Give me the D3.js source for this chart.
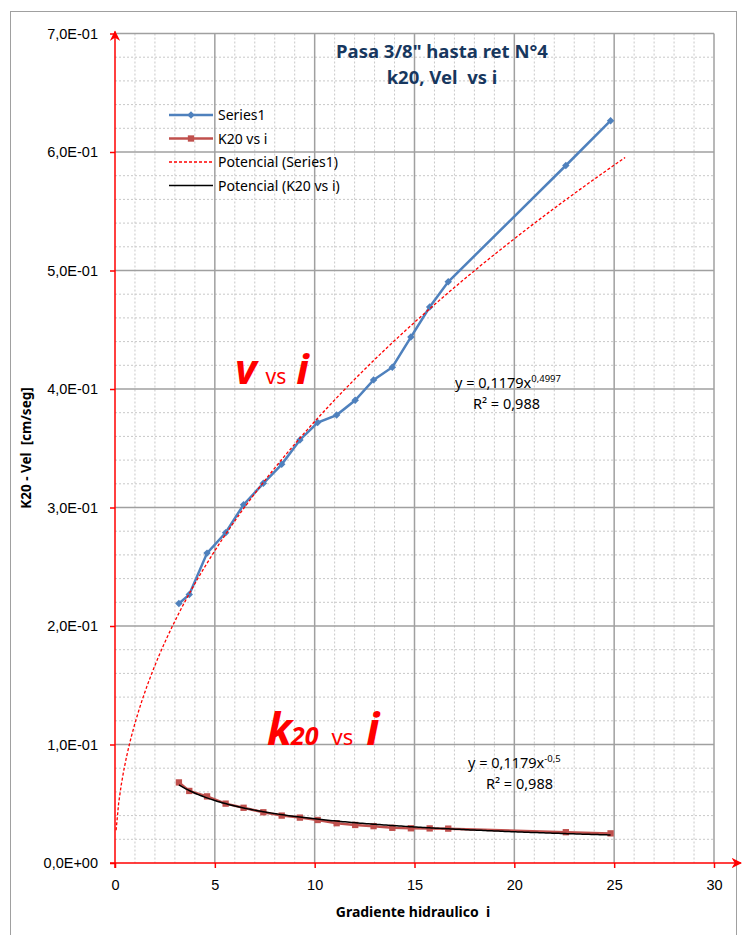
<!DOCTYPE html>
<html>
<head>
<meta charset="utf-8">
<script src="https://cdn.jsdelivr.net/npm/d3@7"></script>
<style>
  body { margin: 0; background: #fff; }
  svg { font-family: "Noto Sans", "Open Sans", sans-serif; }
  text { white-space: pre; }
</style>
</head>
<body>
<script>
// data
var gradiente = [3.20, 3.72, 4.61, 5.54, 6.44, 7.43, 8.35, 9.26, 10.15, 11.10,
                 12.03, 12.95, 13.89, 14.82, 15.76, 16.69, 22.58, 24.82];
var velocidad = [0.2190, 0.2265, 0.2615, 0.2787, 0.3024, 0.3204, 0.3364, 0.3570, 0.3717, 0.3780,
                 0.3905, 0.4077, 0.4184, 0.4438, 0.4692, 0.4905, 0.5886, 0.6264];
var k20 = [0.0680, 0.0608, 0.0562, 0.0501, 0.0466, 0.0428, 0.0400, 0.0383, 0.0363, 0.0336,
           0.0321, 0.0311, 0.0297, 0.0293, 0.0292, 0.0290, 0.0260, 0.0250];
var xTicks = [0, 5, 10, 15, 20, 25, 30];
var yTicks = [0, 0.1, 0.2, 0.3, 0.4, 0.5, 0.6, 0.7];
var yTickLabels = ['0,0E+00', '1,0E-01', '2,0E-01', '3,0E-01', '4,0E-01', '5,0E-01', '6,0E-01', '7,0E-01'];
var legendNames = ['Series1', 'K20 vs i', 'Potencial (Series1)', 'Potencial (K20 vs i)'];
// power trendlines y = a * x^b as printed on the chart
var trendVel = { a: 0.1179, b: 0.4997, from: 0.055, to: 25.55 };
var trendK20 = { a: 0.1179, b: -0.5, from: 3.2, to: 24.82 };

var width = 746;
var height = 935;
var plot = { left: 115, right: 714, top: 33.5, bottom: 863 };

var svg = d3.select('body')
            .append('svg')
            .attr('width', width)
            .attr('height', height);

var xScale = d3.scaleLinear().domain([0, 30]).range([plot.left, plot.right]);
var yScale = d3.scaleLinear().domain([0, 0.7]).range([plot.bottom, plot.top]);

// chart frame
svg.append('rect')
    .attr('x', 10.5).attr('y', 11.5)
    .attr('width', 726).attr('height', 940)
    .attr('fill', '#fff')
    .attr('stroke', '#a0a0a0');

// minor grid
var grid = svg.append('g');
grid.selectAll('.minor-x')
    .data(d3.range(1, 30).filter(function (d) { return d % 5 !== 0; }))
    .enter().append('line')
    .attr('x1', function (d) { return xScale(d); })
    .attr('x2', function (d) { return xScale(d); })
    .attr('y1', plot.top).attr('y2', plot.bottom)
    .attr('stroke', '#c8c8c8').attr('stroke-dasharray', '2,2');
grid.selectAll('.minor-y')
    .data(d3.range(1, 35).filter(function (d) { return d % 5 !== 0; }).map(function (d) { return d * 0.02; }))
    .enter().append('line')
    .attr('y1', function (d) { return yScale(d); })
    .attr('y2', function (d) { return yScale(d); })
    .attr('x1', plot.left).attr('x2', plot.right)
    .attr('stroke', '#c8c8c8').attr('stroke-dasharray', '2,2');

// major grid
grid.selectAll('.major-x')
    .data(xTicks.slice(1))
    .enter().append('line')
    .attr('x1', function (d) { return xScale(d); })
    .attr('x2', function (d) { return xScale(d); })
    .attr('y1', plot.top).attr('y2', plot.bottom)
    .attr('stroke', '#a0a0a0').attr('stroke-width', 1.5);
grid.selectAll('.major-y')
    .data(yTicks.slice(1))
    .enter().append('line')
    .attr('y1', function (d) { return yScale(d); })
    .attr('y2', function (d) { return yScale(d); })
    .attr('x1', plot.left).attr('x2', plot.right)
    .attr('stroke', '#a0a0a0').attr('stroke-width', 1.5);

// axes
var yAxis = svg.append('g')
    .attr('transform', `translate(${plot.left},0)`)
    .call(d3.axisLeft(yScale)
            .tickValues(yTicks)
            .tickSize(5)
            .tickPadding(12)
            .tickFormat(function (d, i) { return yTickLabels[i]; }));
yAxis.select('.domain').remove();
yAxis.selectAll('line').attr('stroke', '#ff0000').attr('stroke-width', 1.5);
yAxis.selectAll('text').attr('font-size', 14.5).attr('fill', '#000');

var xAxis = svg.append('g')
    .attr('transform', `translate(0,${plot.bottom})`)
    .call(d3.axisBottom(xScale)
            .tickValues(xTicks)
            .tickSize(5)
            .tickPadding(12));
xAxis.select('.domain').remove();
xAxis.selectAll('line').attr('stroke', '#ff0000').attr('stroke-width', 1.5);
xAxis.selectAll('text').attr('font-size', 14.5).attr('fill', '#000');

// red axis lines with arrows
svg.append('defs').append('marker')
    .attr('id', 'arrow')
    .attr('viewBox', '0 0 10 10')
    .attr('refX', 9).attr('refY', 5)
    .attr('markerWidth', 7).attr('markerHeight', 7)
    .attr('orient', 'auto')
  .append('path')
    .attr('d', 'M0,0 L10,5 L0,10 L3,5 Z')
    .attr('fill', '#ff0000');

svg.append('line')
    .attr('x1', plot.left - 5).attr('x2', 741)
    .attr('y1', plot.bottom).attr('y2', plot.bottom)
    .attr('stroke', '#ff0000').attr('stroke-width', 1.5)
    .attr('marker-end', 'url(#arrow)');
svg.append('line')
    .attr('x1', plot.left).attr('x2', plot.left)
    .attr('y1', plot.bottom + 5).attr('y2', plot.top - 2)
    .attr('stroke', '#ff0000').attr('stroke-width', 1.5)
    .attr('marker-end', 'url(#arrow)');

// trendlines
function powerCurve(t) {
  var n = 200;
  return d3.range(n + 1).map(function (i) {
    var x = t.from + (t.to - t.from) * i / n;
    return [x, t.a * Math.pow(x, t.b)];
  });
}
var curveLine = d3.line()
    .x(function (d) { return xScale(d[0]); })
    .y(function (d) { return yScale(d[1]); });

var velPoints = gradiente.map(function (x, i) { return [x, velocidad[i]]; });
var k20Points = gradiente.map(function (x, i) { return [x, k20[i]]; });

// K20 series
svg.append('path')
    .datum(k20Points)
    .attr('d', curveLine)
    .attr('fill', 'none')
    .attr('stroke', '#c0504d')
    .attr('stroke-width', 2.5);
svg.selectAll('.k20-mark')
    .data(k20Points)
    .enter().append('path')
    .attr('d', d3.symbol(d3.symbolSquare, 40))
    .attr('transform', function (d) { return `translate(${xScale(d[0])},${yScale(d[1])})`; })
    .attr('fill', '#c0504d');
svg.append('path')
    .datum(powerCurve(trendK20))
    .attr('d', curveLine)
    .attr('fill', 'none')
    .attr('stroke', '#000')
    .attr('stroke-width', 1.5);

// velocity series
svg.append('path')
    .datum(velPoints)
    .attr('d', curveLine)
    .attr('fill', 'none')
    .attr('stroke', '#4f81bd')
    .attr('stroke-width', 2.5);
svg.selectAll('.vel-mark')
    .data(velPoints)
    .enter().append('path')
    .attr('d', d3.symbol(d3.symbolSquare, 28))
    .attr('transform', function (d) { return `translate(${xScale(d[0])},${yScale(d[1])}) rotate(45)`; })
    .attr('fill', '#4f81bd');
svg.append('path')
    .datum(powerCurve(trendVel))
    .attr('d', curveLine)
    .attr('fill', 'none')
    .attr('stroke', '#ff0000')
    .attr('stroke-width', 1.3)
    .attr('stroke-dasharray', '3,2');

// title
var title = svg.append('text')
    .attr('text-anchor', 'middle')
    .attr('font-weight', 'bold')
    .attr('font-size', 18.5)
    .attr('fill', '#17375e');
title.append('tspan').attr('x', 442).attr('y', 58).text('Pasa 3/8" hasta ret N°4');
title.append('tspan').attr('x', 442).attr('y', 84).text('k20, Vel  vs i');

// legend
var legend = svg.append('g').attr('transform', 'translate(169,115)');
var legendRows = legend.selectAll('g')
    .data(legendNames)
    .enter().append('g')
    .attr('transform', function (d, i) { return `translate(0,${i * 23.5})`; });
legendRows.append('line')
    .attr('x1', 0).attr('x2', 44)
    .attr('stroke', function (d, i) { return ['#4f81bd', '#c0504d', '#ff0000', '#000'][i]; })
    .attr('stroke-width', function (d, i) { return i < 2 ? 2.5 : 1.3; })
    .attr('stroke-dasharray', function (d, i) { return i === 2 ? '3,2' : null; });
legendRows.filter(function (d, i) { return i === 0; })
    .append('path')
    .attr('d', d3.symbol(d3.symbolSquare, 28))
    .attr('transform', 'translate(22,0) rotate(45)')
    .attr('fill', '#4f81bd');
legendRows.filter(function (d, i) { return i === 1; })
    .append('path')
    .attr('d', d3.symbol(d3.symbolSquare, 40))
    .attr('transform', 'translate(22,0)')
    .attr('fill', '#c0504d');
legendRows.append('text')
    .attr('x', 49).attr('y', 5)
    .attr('font-size', 14)
    .text(function (d) { return d; });

// big red labels
var vLabel = svg.append('text')
    .attr('x', 235).attr('y', 384)
    .attr('fill', '#ff0000');
vLabel.append('tspan').attr('font-size', 42).attr('font-weight', 'bold').attr('font-style', 'italic').text('v');
vLabel.append('tspan').attr('font-size', 21).attr('dx', 9).text('vs');
vLabel.append('tspan').attr('font-size', 42).attr('font-weight', 'bold').attr('font-style', 'italic').attr('dx', 10).text('i');

var kLabel = svg.append('text')
    .attr('x', 267).attr('y', 745)
    .attr('fill', '#ff0000');
kLabel.append('tspan').attr('font-size', 44).attr('font-weight', 'bold').attr('font-style', 'italic').attr('letter-spacing', -1).text('k');
kLabel.append('tspan').attr('font-size', 25).attr('font-weight', 'bold').attr('font-style', 'italic').text('20');
kLabel.append('tspan').attr('font-size', 22).attr('dx', 13).text('vs');
kLabel.append('tspan').attr('font-size', 44).attr('font-weight', 'bold').attr('font-style', 'italic').attr('dx', 13).text('i');

// equations
function equation(x, y, exp) {
  var t = svg.append('text').attr('x', x).attr('y', y).attr('font-size', 14.5).attr('fill', '#000');
  t.append('tspan').text('y = 0,1179x');
  t.append('tspan').attr('font-size', 9.5).attr('dy', -6).text(exp);
  svg.append('text').attr('x', x + 18).attr('y', y + 21).attr('font-size', 14.5).attr('fill', '#000')
     .text('R² = 0,988');
}
equation(455, 388, '0,4997');
equation(468, 768, '-0,5');

// axis titles
svg.append('text')
    .attr('x', 413).attr('y', 917)
    .attr('text-anchor', 'middle')
    .attr('font-weight', 'bold')
    .attr('font-size', 14)
    .text('Gradiente hidraulico  i');
svg.append('text')
    .attr('transform', 'translate(31,448) rotate(-90)')
    .attr('text-anchor', 'middle')
    .attr('font-weight', 'bold')
    .attr('font-size', 13.5)
    .text('K20 - Vel  [cm/seg]');
</script>
</body>
</html>
